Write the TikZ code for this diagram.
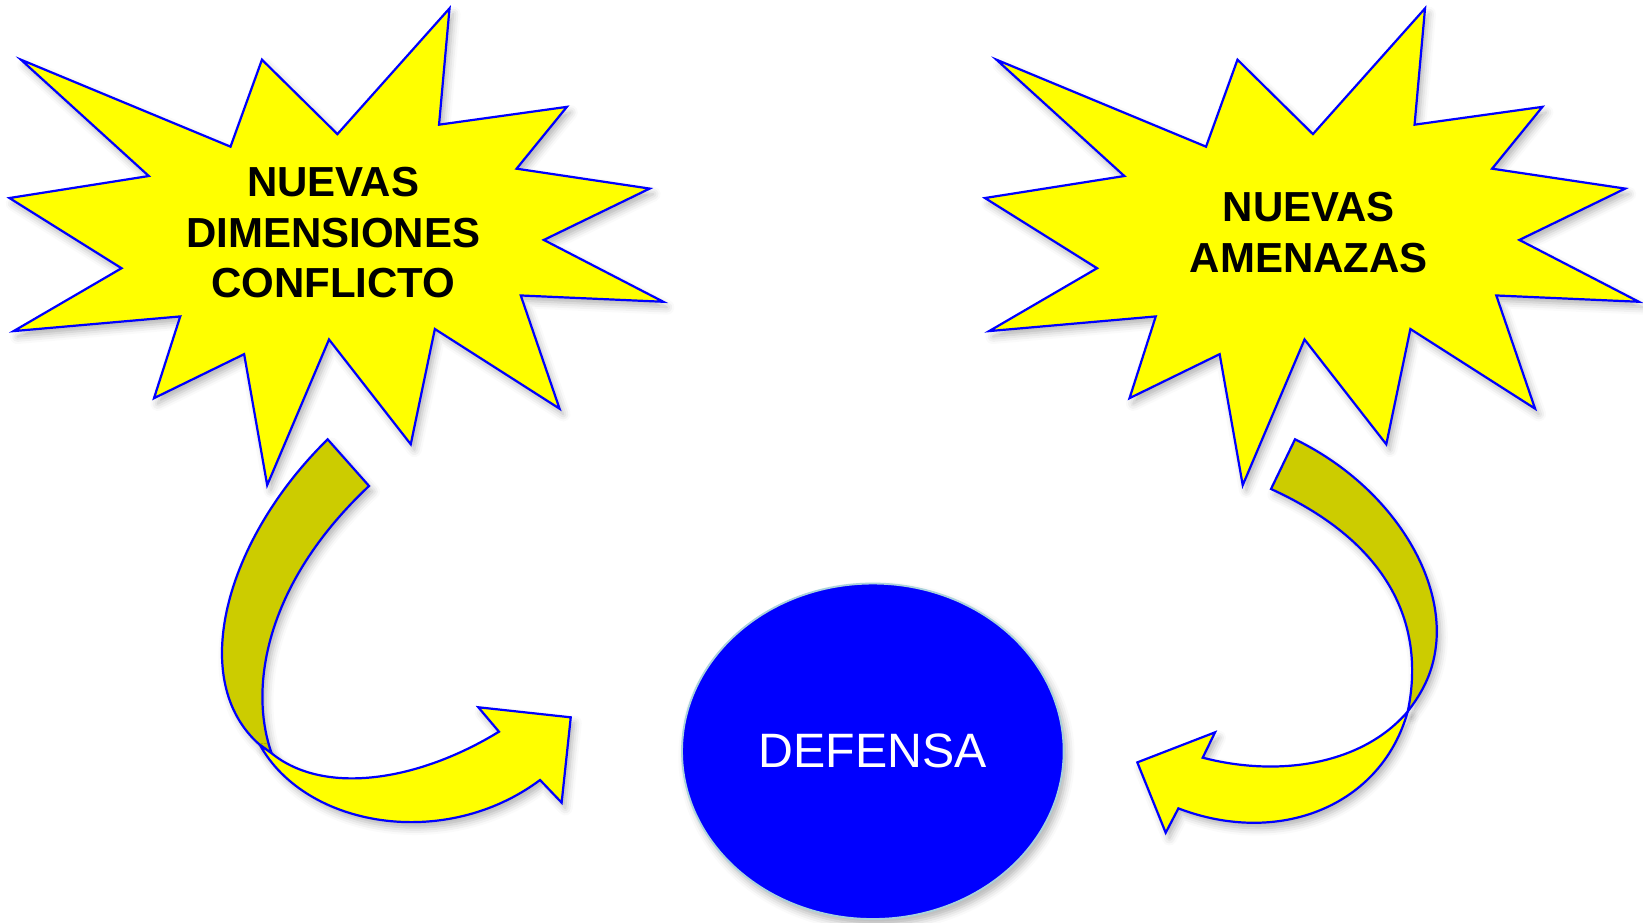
\documentclass[tikz,border=0pt]{standalone}
\usepackage{fontspec}
\setmainfont{Liberation Sans}
\usetikzlibrary{shapes.geometric,shadows.blur}

\definecolor{burstyellow}{RGB}{255,255,0}
\definecolor{edgeblue}{RGB}{0,0,255}
\definecolor{ribbonback}{RGB}{204,204,0}
\definecolor{defensablue}{RGB}{0,0,255}
\definecolor{rimgrey}{RGB}{170,210,220}

\begin{document}
\begin{tikzpicture}[x=0.01cm, y=-0.01cm,
  softshadow/.style={blur shadow={shadow xshift=1pt, shadow yshift=-1.5pt,
    shadow blur radius=2pt, shadow opacity=30}},
  burst/.style={fill=burstyellow, draw=edgeblue, line width=0.6pt, softshadow},
  backface/.style={fill=ribbonback, draw=edgeblue, line width=0.6pt, softshadow},
  frontface/.style={fill=burstyellow, draw=edgeblue, line width=0.6pt, softshadow},
  bursttext/.style={align=center, inner sep=0pt,
    font=\bfseries\fontsize{11.4}{13.7}\selectfont},
  defensa/.style={ellipse, minimum width=3.64cm, minimum height=3.20cm,
    inner sep=0pt, fill=defensablue, draw=rimgrey, line width=0.5pt,
    text=white, font=\fontsize{13.1}{15}\selectfont, softshadow}]

  % Fix the size of the page
  \useasboundingbox (0,0) rectangle (1568,880);

  % Outline of one burst (the right one is the same, shifted)
  \def\burstoutline{(20,57) -- (220,140) -- (250,57) -- (322,128) -- (429,8)
    -- (419,119) -- (541,102) -- (493,161) -- (620,180) -- (519,229)
    -- (633,288) -- (497,282) -- (534,390) -- (415,314) -- (392,424)
    -- (314,324) -- (255,463) -- (233,338) -- (147,380) -- (172,302)
    -- (13,316) -- (116,256) -- (9,189) -- (142,168) -- cycle}

  % Left burst
  \filldraw[burst] \burstoutline;

  % Right burst
  \begin{scope}[shift={(931,0)}]
    \filldraw[burst] \burstoutline;
  \end{scope}

  % Texts of the bursts
  \node[bursttext] (conflicto) at (318,222) {NUEVAS\\DIMENSIONES\\CONFLICTO};
  \node[bursttext] (amenazas) at (1249,222) {NUEVAS\\AMENAZAS};

  % Left ribbon arrow: back face first, then the front face with the head
  \filldraw[backface] (312.7,419.3) .. controls (215,515) and (178,650) .. (248.1,711)
    -- (259.3,719) .. controls (238,660) and (250,560) .. (352.2,463.8) -- cycle;
  \filldraw[frontface] (248.1,711) .. controls (292,790) and (425,812) .. (515.4,744.4)
    -- (536,766) -- (544.7,684.6) -- (456.5,675) -- (476.2,698.3)
    .. controls (400,745) and (310,760) .. (259.3,719) -- cycle;

  % Right ribbon arrow
  \filldraw[backface] (1235.9,419.3) .. controls (1320,460) and (1375,540) .. (1371,610)
    .. controls (1369,640) and (1358,660) .. (1343.5,679)
    .. controls (1360,600) and (1330,520) .. (1213,466.7) -- cycle;
  \filldraw[frontface] (1343.5,679) .. controls (1318,770) and (1220,808) .. (1124.6,771.5)
    -- (1112.5,794.7) -- (1085.4,727.6) -- (1159.6,698.9) -- (1147.8,723.1)
    .. controls (1220,742) and (1300,730) .. (1343.5,679) -- cycle;

  % The circle in the middle
  \node[defensa] (defensa) at (833,717) {DEFENSA};

\end{tikzpicture}
\end{document}
